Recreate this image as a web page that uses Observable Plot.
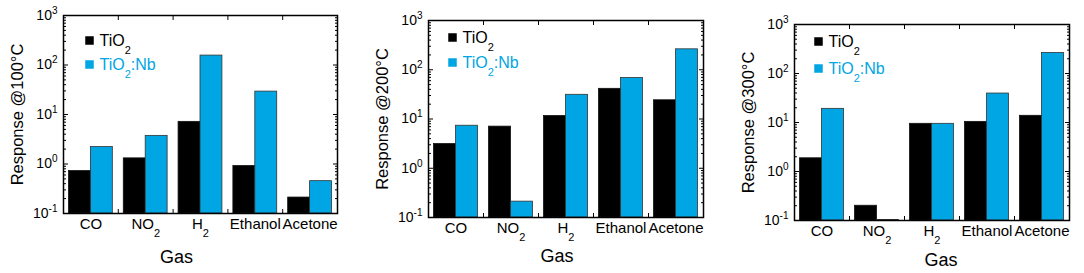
<!DOCTYPE html>
<html><head><meta charset="utf-8">
<script src="https://cdn.jsdelivr.net/npm/d3@7"></script>
<script src="https://cdn.jsdelivr.net/npm/@observablehq/plot@0.6"></script>
<style>
body{margin:0;background:#fff;}
#wrap{position:relative;width:1084px;height:273px;overflow:hidden;background:#fff;}
.panel{position:absolute;top:0;}
</style></head><body><div id="wrap"></div>
<script>
// ---- data ----
const gases = ["CO", "NO_2", "H_2", "Ethanol", "Acetone"];
const seriesNames = ["TiO_2", "TiO_2:Nb"];
const yLabels = ["Response @100°C", "Response @200°C", "Response @300°C"];
const xLabel = "Gas";
const tio2_100 = [0.72, 1.3, 7.1, 0.91, 0.21];
const nb_100   = [2.2, 3.7, 155, 29, 0.45];
const tio2_200 = [3.1, 7.0, 11.5, 41, 24];
const nb_200   = [7.3, 0.21, 31, 68, 260];
const tio2_300 = [1.86, 0.20, 9.4, 10.3, 13.7];
const nb_300   = [19, 0.102, 9.4, 39, 263];
const yTickValues = [0.1, 1, 10, 100, 1000];
const yTickLabels = ["10^-1", "10^0", "10^1", "10^2", "10^3"];
const yDomain = [0.1, 1000];

// ---- style ----
const colors = ["#000000", "#00A6E3"];
const font = "'Liberation Sans', Arial, sans-serif";
const layout = [
  {left: 0,   width: 360, ml: 63, mr: 23, mt: 15, mb: 60, lx: 22, ly: [25, 49], gdx: -24, gdy: 44},
  {left: 360, width: 362, ml: 68, mr: 19, mt: 20, mb: 56, lx: 20, ly: [17, 42], gdx: -9,  gdy: 39},
  {left: 722, width: 362, ml: 72, mr: 15, mt: 24, mb: 53, lx: 20, ly: [17, 44], gdx: 9,   gdy: 40}
];
const panels = [[tio2_100, nb_100], [tio2_200, nb_200], [tio2_300, nb_300]];

const minorTicks = d3.scaleLog().domain(yDomain).ticks().filter(t => !yTickValues.some(v => Math.abs(v - t) / v < 1e-9));
const groupTicks = gases.slice(1).map((g, i) => i + 1.5);

function richify(svg) {
  d3.select(svg).selectAll("text").each(function() {
    const t = this;
    if (t.querySelector("tspan")) return;
    const s = t.textContent;
    if (!/[_^]/.test(s)) return;
    const parts = s.split(/([_^]-?\d+)/).filter(p => p !== "");
    t.textContent = "";
    let shift = 0;
    for (const p of parts) {
      const ts = document.createElementNS("http://www.w3.org/2000/svg", "tspan");
      let target = 0, size = null;
      if (p[0] === "_") { target = 8; size = 11; ts.textContent = p.slice(1); }
      else if (p[0] === "^") { target = -6; size = 10; ts.textContent = p.slice(1); }
      else ts.textContent = p;
      const d = target - shift;
      if (d) ts.setAttribute("dy", d);
      if (size) ts.setAttribute("font-size", size);
      shift = target;
      t.appendChild(ts);
    }
  });
}

const wrap = document.getElementById("wrap");
panels.forEach((vals, p) => {
  const L = layout[p];
  const rows = vals.map((arr, s) => arr.map((v, i) => ({gi: i + 1, s, v}))).flat();
  const svg = Plot.plot({
    width: L.width, height: 273,
    marginLeft: L.ml, marginRight: L.mr, marginTop: L.mt, marginBottom: L.mb,
    style: {fontFamily: font, fontSize: "14px", color: "black", background: "white", overflow: "visible"},
    x: {type: "linear", domain: [0.5, 5.5], label: null},
    y: {type: "log", domain: yDomain, label: null},
    marks: [
      Plot.rectY(rows.filter(d => d.s === 0), {x1: d => d.gi - 0.4, x2: d => d.gi, y1: yDomain[0], y2: "v", fill: colors[0], stroke: "#111", strokeWidth: 0.8}),
      Plot.rectY(rows.filter(d => d.s === 1), {x1: d => d.gi, x2: d => d.gi + 0.4, y1: yDomain[0], y2: "v", fill: colors[1], stroke: "#333", strokeWidth: 0.8}),
      Plot.frame({stroke: "black", strokeWidth: 1.5}),
      Plot.axisY({ticks: yTickValues, tickFormat: d => yTickLabels[yTickValues.indexOf(d)], tickSize: -5, tickPadding: 11, fontSize: 14, anchor: "left", label: null}),
      Plot.axisY({ticks: minorTicks, tickSize: -3, text: null, anchor: "left", label: null}),
      Plot.axisY({ticks: yTickValues, tickSize: -5, text: null, anchor: "right", label: null}),
      Plot.axisY({ticks: minorTicks, tickSize: -3, text: null, anchor: "right", label: null}),
      Plot.axisX({ticks: gases.map((g, i) => i + 1), tickFormat: d => gases[d - 1], tickSize: 0, tickPadding: 5, fontSize: 15, anchor: "bottom", label: null}),
      Plot.axisX({ticks: groupTicks, tickSize: -4, text: null, anchor: "bottom", label: null}),
      Plot.axisX({ticks: groupTicks, tickSize: -4, text: null, anchor: "top", label: null}),
      Plot.text([yLabels[p]], {text: d => d, frameAnchor: "left", textAnchor: "middle", lineAnchor: "middle", rotate: -90, dx: -46, fontSize: 16.5}),
      Plot.text([xLabel], {text: d => d, frameAnchor: "bottom", textAnchor: "middle", lineAnchor: "middle", dx: L.gdx, dy: L.gdy, fontSize: 18}),
      Plot.dot([0], {frameAnchor: "top-left", dx: L.lx + 4, dy: L.ly[0], symbol: "square", r: 4.8, fill: colors[0]}),
      Plot.dot([0], {frameAnchor: "top-left", dx: L.lx + 4, dy: L.ly[1], symbol: "square", r: 4.8, fill: colors[1]}),
      Plot.text([seriesNames[0]], {text: d => d, frameAnchor: "top-left", textAnchor: "start", lineAnchor: "middle", dx: L.lx + 14, dy: L.ly[0], fill: colors[0], fontSize: 16}),
      Plot.text([seriesNames[1]], {text: d => d, frameAnchor: "top-left", textAnchor: "start", lineAnchor: "middle", dx: L.lx + 14, dy: L.ly[1], fill: colors[1], fontSize: 16})
    ]
  });
  const div = document.createElement("div");
  div.className = "panel";
  div.style.left = L.left + "px";
  div.appendChild(svg);
  wrap.appendChild(div);
  richify(svg);
});
</script></body></html>
